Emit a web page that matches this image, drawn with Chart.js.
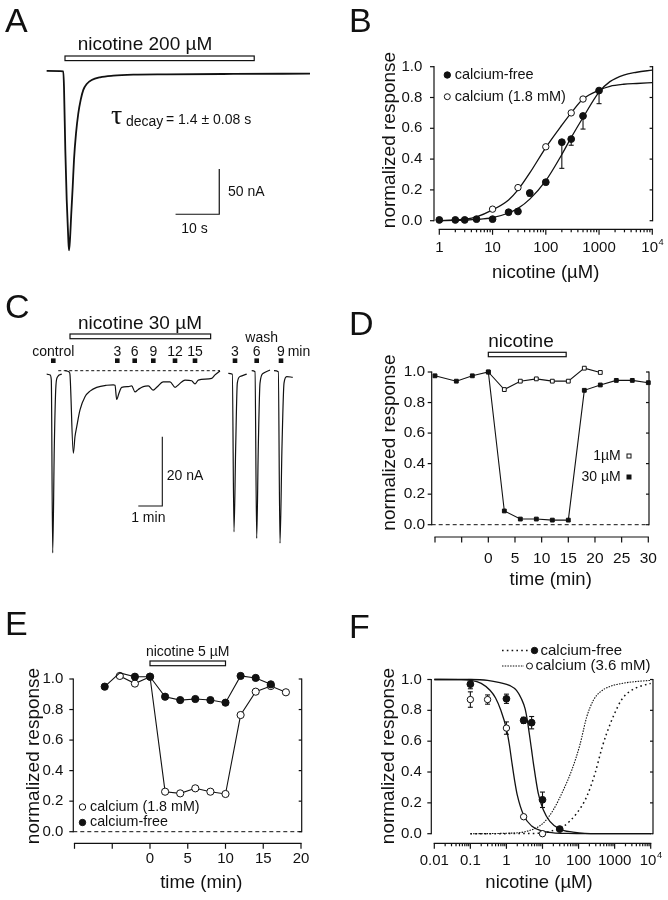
<!DOCTYPE html>
<html>
<head>
<meta charset="utf-8">
<title>nicotine responses</title>
<script src="https://cdn.jsdelivr.net/npm/chart.js@4.4.1/dist/chart.umd.min.js"></script>
<style>
  html, body { margin: 0; padding: 0; background: #fff; }
  #fig { position: relative; width: 668px; height: 900px; overflow: hidden; background: #fff; }
  #fig canvas { position: absolute; left: 0; top: 0; }
</style>
</head>
<body>
<div id="fig">
  <canvas id="pA" width="668" height="900"></canvas>
  <canvas id="pB" width="668" height="900"></canvas>
  <canvas id="pC" width="668" height="900"></canvas>
  <canvas id="pD" width="668" height="900"></canvas>
  <canvas id="pE" width="668" height="900"></canvas>
  <canvas id="pF" width="668" height="900"></canvas>
</div>
<script>
// A - current trace, 200 uM nicotine (time s, current nA)
const traceA_s  = [-4.2, -0.39, -0.23, 0.07, 0.39, 0.76, 0.92, 1.14, 1.44, 1.76, 2.06, 2.52, 3.04, 3.59, 4.19, 4.97, 6.11, 8.01, 11.05, 15.63, 23.27, 38.51, 56.06];
const traceA_nA = [3.9, 3.5, -13.5, -83, -138, -182, -194, -182, -153, -124, -94, -65, -43, -28, -17, -10.5, -6.1, -3.1, -1.3, -0.2, 0.2, 0.6, 0.9];
const drugA_s   = [0, 43.3];
const barA      = [10, 50];   // 10 s, 50 nA

// B - concentration-response
const concB_free = [1, 2, 3, 5, 10, 20, 30, 50, 100, 200, 300, 500, 1000];
const respB_free = [0.005, 0.005, 0.005, 0.01, 0.01, 0.055, 0.06, 0.18, 0.25, 0.51, 0.53, 0.68, 0.845];
const semB_free  = [0, 0, 0, 0, 0, 0, 0, 0.02, 0, 0.17, 0.04, 0.085, 0.085];
const concB_ca   = [10, 30, 100, 300, 500];
const respB_ca   = [0.075, 0.215, 0.48, 0.70, 0.79];
const fitB_conc  = [1, 2, 3, 5, 10, 20, 30, 50, 100, 200, 300, 500, 1000, 1600, 2900, 5100, 10000];
const fitB_free  = [0, 0.002, 0.004, 0.008, 0.02, 0.05, 0.08, 0.14, 0.26, 0.43, 0.54, 0.67, 0.835, 0.903, 0.946, 0.964, 0.978];
const fitB_ca    = [0, 0.005, 0.01, 0.025, 0.07, 0.135, 0.2, 0.31, 0.475, 0.62, 0.7, 0.79, 0.848, 0.873, 0.886, 0.891, 0.896];

// C - traces, 30 uM nicotine (time min, current nA), one array pair per sweep
const segC_ctl_min = [-0.971, -0.833, -0.779, -0.721, -0.654, -0.596, -0.529, -0.346];
const segC_ctl_nA  = [-1.0, -1.2, -2.7, -52.6, -21.9, -5.6, -1.9, -1.0];
const segC_nic_min = [-0.208, -0.029, 0, 0.138, 0.208, 0.279, 0.417, 0.625, 0.833, 1.113, 1.529, 1.804, 1.875, 1.946, 2.04, 2.154, 2.429, 2.571, 2.708, 2.846, 3.054, 3.263, 3.471, 3.613, 3.888, 4.167, 4.375, 4.513, 4.792, 5.071, 5.208, 5.346, 5.904, 6.042, 6.25];
const segC_nic_nA  = [0, -0.4, -1.2, -23.8, -19.0, -16.2, -11.3, -7.5, -5.9, -4.8, -4.2, -4.1, -4.2, -8.3, -6.5, -4.8, -4.6, -4.4, -6.1, -5.4, -4.6, -4.4, -5.6, -4.8, -3.2, -3.2, -4.8, -4.1, -2.7, -2.9, -3.8, -2.7, -2.2, -1.2, -0.1];
const segC_w3_min  = [6.596, 6.763, 6.833, 6.904, 6.971, 7.083, 7.363];
const segC_w3_nA   = [-0.75, -1.0, -46.5, -21.9, -3.6, -1.7, -1.0];
const segC_w6_min  = [7.571, 7.708, 7.779, 7.846, 7.917, 8.054, 8.333];
const segC_w6_nA   = [0, -0.3, -48.4, -21.9, -3.6, -0.75, 0.2];
const segC_w9_min  = [8.5, 8.679, 8.75, 8.833, 8.917, 9.029, 9.279];
const segC_w9_nA   = [0, -0.3, -49.8, -21.9, -3.6, -1.7, -1.9];
const baseC_min    = [-0.49, 6.25];
const baseC_nA     = [0, 0];
const markC_min    = [-0.696, 1.971, 2.696, 3.471, 4.375, 5.208, 6.875, 7.779, 8.792];
const markC_text   = ['control', '3', '6', '9', '12', '15', '3', '6', '9'];
const drugC_min    = [0, 5.86];
const barC         = [1, 20];  // 1 min, 20 nA

// D - time course, 1 and 30 uM
const timeD_30 = [-10, -6, -3, 0, 3, 6, 9, 12, 15, 18, 21, 24, 27, 30];
const respD_30 = [0.975, 0.94, 0.975, 1.0, 0.09, 0.037, 0.037, 0.03, 0.03, 0.88, 0.915, 0.945, 0.945, 0.93];
const timeD_1  = [0, 3, 6, 9, 12, 15, 18, 21];
const respD_1  = [1.0, 0.885, 0.94, 0.955, 0.94, 0.94, 1.025, 0.997];
const drugD    = [0, 14.6];

// E - time course, 5 uM
const timeE_free = [-6, -4, -2, 0, 2, 4, 6, 8, 10, 12, 14, 16];
const respE_free = [0.95, 1.04, 1.015, 1.015, 0.884, 0.862, 0.869, 0.862, 0.845, 1.02, 1.007, 0.965];
const timeE_ca   = [-4, -2, 0, 2, 4, 6, 8, 10, 12, 14, 16, 18];
const respE_ca   = [1.02, 0.97, 1.015, 0.262, 0.251, 0.284, 0.262, 0.247, 0.764, 0.917, 0.954, 0.913];
const drugE      = [0, 10];

// F - inhibition curves
const concF_free = [0.1, 1, 3, 5, 10, 30];
const respF_free = [0.97, 0.875, 0.735, 0.72, 0.22, 0.03];
const semF_free  = [0.03, 0.03, 0.02, 0.04, 0.05, 0];
const concF_ca   = [0.1, 0.3, 1, 3, 10];
const respF_ca   = [0.87, 0.87, 0.685, 0.11, 0.0];
const semF_ca    = [0.05, 0.03, 0.04, 0, 0];
const fitF_ca_x   = [0.01, 0.05, 0.1, 0.2, 0.35, 0.5, 0.7, 1, 1.2, 1.4, 1.7, 2, 3, 5, 10, 20, 50, 100, 1000, 10000];
const fitF_ca_y   = [1.0, 0.999, 0.995, 0.975, 0.93, 0.88, 0.8, 0.68, 0.58, 0.47, 0.34, 0.25, 0.12, 0.05, 0.017, 0.006, 0.002, 0.001, 0, 0];
const fitF_free_x = [0.01, 0.1, 0.3, 0.66, 1.26, 1.9, 2.6, 3.3, 3.8, 4.3, 5, 5.6, 7.6, 10.5, 16, 30, 70, 150, 1000, 10000];
const fitF_free_y = [1.0, 1.0, 0.995, 0.98, 0.96, 0.93, 0.875, 0.81, 0.735, 0.65, 0.54, 0.456, 0.263, 0.155, 0.08, 0.03, 0.01, 0.002, 0, 0];
const actF_ca_x   = [0.1, 1, 3.6, 10.5, 20, 38, 65, 110, 168, 257, 393, 741, 1740, 5000, 10000];
const actF_ca_y   = [0, 0.003, 0.015, 0.069, 0.155, 0.284, 0.413, 0.58, 0.757, 0.865, 0.918, 0.955, 0.976, 0.989, 0.994];
const actF_free_x = [0.1, 10, 16, 38, 89, 168, 285, 437, 600, 1000, 1570, 2700, 5000, 10000];
const actF_free_y = [0, 0.003, 0.015, 0.047, 0.133, 0.24, 0.39, 0.55, 0.65, 0.78, 0.87, 0.925, 0.955, 0.975];

// axis ticks
const respTicks = [0, 0.2, 0.4, 0.6, 0.8, 1.0];
const respText  = ['0.0', '0.2', '0.4', '0.6', '0.8', '1.0'];
const concTicksB = [1, 10, 100, 1000, 10000];
const concTextB  = ['1', '10', '100', '1000', '10^4'];
const timeTicksD = [-10, -5, 0, 5, 10, 15, 20, 25, 30];
const timeTextD  = ['', '', '0', '5', '10', '15', '20', '25', '30'];
const timeTicksE = [-10, -5, 0, 5, 10, 15, 20];
const timeTextE  = ['', '', '0', '5', '10', '15', '20'];
const concTicksF = [0.01, 0.1, 1, 10, 100, 1000, 10000];
const concTextF  = ['0.01', '0.1', '1', '10', '100', '1000', '10^4'];

const W = 668, H = 900;
const INK = '#111';
const SANS = '"Liberation Sans", Arial, Helvetica, sans-serif';
const SERIF = '"Liberation Serif", "DejaVu Serif", serif';

const pts = (xs, ys) => xs.map((x, i) => ({ x: x, y: ys[i] }));

function seg(ctx, x1, y1, x2, y2) {
  ctx.beginPath(); ctx.moveTo(x1, y1); ctx.lineTo(x2, y2); ctx.stroke();
}

function label(ctx, str, x, y, size, align, base, fam) {
  ctx.save();
  ctx.font = size + 'px ' + (fam || SANS);
  ctx.textAlign = align || 'center';
  ctx.textBaseline = base || 'middle';
  ctx.fillStyle = INK;
  ctx.fillText(str, x, y);
  ctx.restore();
}

function powLabel(ctx, str, x, y, size) {
  const parts = str.split('^');
  ctx.save();
  ctx.font = size + 'px ' + SANS;
  const wb = ctx.measureText(parts[0]).width;
  ctx.font = (size * 0.62) + 'px ' + SANS;
  const we = ctx.measureText(parts[1]).width;
  ctx.restore();
  const x0 = x - (wb + we) / 2;
  label(ctx, parts[0], x0, y, size, 'left');
  label(ctx, parts[1], x0 + wb + 0.5, y - size * 0.38, size * 0.62, 'left');
}

function yTitle(ctx, str, x, y) {
  ctx.save();
  ctx.translate(x, y);
  ctx.rotate(-Math.PI / 2);
  label(ctx, str, 0, 0, 19);
  ctx.restore();
}

function letter(ctx, ch, x, y) { label(ctx, ch, x, y, 34, 'left', 'alphabetic'); }

function drugBar(ctx, sx, span, y, h) {
  const a = sx.getPixelForValue(span[0]), b = sx.getPixelForValue(span[1]);
  ctx.save();
  ctx.fillStyle = '#fff'; ctx.strokeStyle = INK; ctx.lineWidth = 1.2;
  ctx.fillRect(a, y, b - a, h);
  ctx.strokeRect(a, y, b - a, h);
  ctx.restore();
}

function logMinor(from, to) {
  const out = [];
  for (let d = from; d < to; d *= 10) for (let k = 2; k < 10; k++) out.push(d * k);
  return out;
}

// SigmaPlot style frame: offset x axis, left axis with labels, bare right axis
function frame(chart, f) {
  const ctx = chart.ctx, sx = chart.scales.x, sy = chart.scales.y;
  ctx.save();
  ctx.strokeStyle = INK; ctx.lineWidth = 1.2;
  const yb = sy.getPixelForValue(0), yt = sy.getPixelForValue(1);
  const lx = sx.left - f.leftGap, rx = sx.right + f.rightGap;
  seg(ctx, lx, yb + 0.6, lx, yt - 0.6);
  seg(ctx, rx, yb + 0.6, rx, yt - 0.6);
  respTicks.forEach((v, i) => {
    const p = sy.getPixelForValue(v);
    seg(ctx, lx - 4, p, lx, p);
    seg(ctx, rx - 3, p, rx, p);
    label(ctx, respText[i], lx - f.yLabelGap, p, f.size, 'right');
  });
  const ay = sy.bottom + f.axisGap;
  seg(ctx, sx.getPixelForValue(f.ticks[0]) - 0.6, ay, sx.getPixelForValue(f.ticks[f.ticks.length - 1]) + 0.6, ay);
  (f.minor || []).forEach(v => { const p = sx.getPixelForValue(v); seg(ctx, p, ay, p, ay + 3); });
  f.ticks.forEach(v => { const p = sx.getPixelForValue(v); seg(ctx, p, ay, p, ay + 5.5); });
  f.text.forEach((t, i) => {
    if (!t) return;
    const p = sx.getPixelForValue(f.ticks[i]);
    if (t.indexOf('^') >= 0) powLabel(ctx, t, p, ay + f.xLabelGap, f.size);
    else label(ctx, t, p, ay + f.xLabelGap, f.size);
  });
  if (f.zeroLine) {
    ctx.setLineDash([4, 3]); ctx.lineWidth = 1;
    seg(ctx, lx, yb, rx, yb);
  }
  ctx.restore();
}

function errBars(chart, xs, ys, es, both) {
  const ctx = chart.ctx, sx = chart.scales.x, sy = chart.scales.y;
  ctx.save();
  ctx.strokeStyle = INK; ctx.lineWidth = 1.1;
  xs.forEach((x, i) => {
    if (!es[i]) return;
    const px = sx.getPixelForValue(x);
    const lo = sy.getPixelForValue(ys[i] - es[i]);
    const hi = sy.getPixelForValue(both ? ys[i] + es[i] : ys[i]);
    seg(ctx, px, lo, px, hi);
    seg(ctx, px - 2.5, lo, px + 2.5, lo);
    if (both) seg(ctx, px - 2.5, hi, px + 2.5, hi);
  });
  ctx.restore();
}

function dot(ctx, x, y, r, open) {
  ctx.save();
  ctx.beginPath(); ctx.arc(x, y, r, 0, Math.PI * 2);
  ctx.fillStyle = open ? '#fff' : INK; ctx.fill();
  ctx.strokeStyle = INK; ctx.lineWidth = 1; ctx.stroke();
  ctx.restore();
}

function curve(xs, ys, extra) {
  return Object.assign({
    data: pts(xs, ys), borderColor: INK, borderWidth: 1.3, pointRadius: 0,
    cubicInterpolationMode: 'monotone', fill: false, clip: false, order: 5
  }, extra || {});
}

function marks(xs, ys, open, extra) {
  return Object.assign({
    data: pts(xs, ys), showLine: false, pointStyle: 'circle', pointRadius: 3.3,
    pointBackgroundColor: open ? '#fff' : INK, pointBorderColor: INK, pointBorderWidth: 1,
    borderColor: INK, borderWidth: 1.1, tension: 0, clip: false, order: 0
  }, extra || {});
}

function build(id, area, xScale, yScale, datasets, deco) {
  return new Chart(document.getElementById(id), {
    type: 'line',
    data: { datasets: datasets },
    options: {
      responsive: false,
      animation: false,
      events: [],
      devicePixelRatio: 1,
      layout: { autoPadding: false, padding: { left: area[0], top: area[1], right: W - area[2], bottom: H - area[3] } },
      plugins: { legend: { display: false }, tooltip: { enabled: false } },
      scales: {
        x: Object.assign({ display: false, bounds: 'data' }, xScale),
        y: Object.assign({ display: false, bounds: 'data' }, yScale)
      }
    },
    plugins: [{
      id: 'deco',
      beforeDatasetsDraw: c => { if (deco.under) deco.under(c, c.ctx, c.scales.x, c.scales.y); },
      afterDraw: c => { if (deco.over) deco.over(c, c.ctx, c.scales.x, c.scales.y); }
    }]
  });
}

// ---- A ----
build('pA', [0, 0, 334, 290],
  { type: 'linear', min: -14.874, max: 61.556 },
  { type: 'linear', min: -237.6, max: 82.14 },
  [curve(traceA_s, traceA_nA, { borderWidth: 1.8 })],
  { over: (c, ctx, sx, sy) => {
      letter(ctx, 'A', 5, 32);
      drugBar(ctx, sx, drugA_s, 56, 4.6);
      label(ctx, 'nicotine 200 µM', 145, 45, 19);
      // scale bar corner at 35.3 s / -154.1 nA
      ctx.save(); ctx.strokeStyle = INK; ctx.lineWidth = 1.2;
      const cx = sx.getPixelForValue(35.3), cy = sy.getPixelForValue(-154.1);
      ctx.beginPath();
      ctx.moveTo(sx.getPixelForValue(35.3 - barA[0]), cy);
      ctx.lineTo(cx, cy);
      ctx.lineTo(cx, sy.getPixelForValue(-154.1 + barA[1]));
      ctx.stroke(); ctx.restore();
      label(ctx, barA[1] + ' nA', 228, 192, 14, 'left');
      label(ctx, barA[0] + ' s', 194.5, 229.5, 14);
      label(ctx, 'τ', 111, 124, 28, 'left', 'alphabetic', SERIF);
      label(ctx, 'decay', 126, 125.5, 14, 'left', 'alphabetic');
      label(ctx, '= 1.4 ± 0.08 s', 166, 124, 14, 'left', 'alphabetic');
  } });

// ---- B ----
build('pB', [439.3, 66.7, 652.3, 220.7],
  { type: 'logarithmic', min: 1, max: 10000 },
  { type: 'linear', min: 0, max: 1 },
  [
    marks(concB_free, respB_free, false, { pointRadius: 3.4, order: 0 }),
    marks(concB_ca, respB_ca, true, { pointRadius: 3.2, order: 1 }),
    curve(fitB_conc, fitB_free),
    curve(fitB_conc, fitB_ca)
  ],
  { under: c => errBars(c, concB_free, respB_free, semB_free, false),
    over: (c, ctx) => {
      frame(c, { leftGap: 5.3, rightGap: 0.3, axisGap: 8.6, yLabelGap: 11.7, xLabelGap: 19, size: 15,
                 ticks: concTicksB, text: concTextB, minor: logMinor(1, 10000) });
      letter(ctx, 'B', 349, 31.7);
      yTitle(ctx, 'normalized response', 389.5, 140);
      label(ctx, 'nicotine (µM)', 545.7, 272.7, 18.5);
      dot(ctx, 447.3, 75, 3.2, false);
      label(ctx, 'calcium-free', 454.7, 75, 14.5, 'left');
      dot(ctx, 447.3, 96.7, 3, true);
      label(ctx, 'calcium (1.8 mM)', 454.7, 96.7, 14.5, 'left');
  } });

// ---- C ----
const traceStyle = { borderWidth: 1.2 };
build('pC', [0, 290, 334, 600],
  { type: 'linear', min: -2.9167, max: 11.0 },
  { type: 'linear', min: -66.18, max: 23.29 },
  [
    curve(segC_ctl_min, segC_ctl_nA, traceStyle),
    curve(segC_nic_min, segC_nic_nA, traceStyle),
    curve(segC_w3_min, segC_w3_nA, traceStyle),
    curve(segC_w6_min, segC_w6_nA, traceStyle),
    curve(segC_w9_min, segC_w9_nA, traceStyle),
    curve(baseC_min, baseC_nA, { borderWidth: 1, borderDash: [3, 2.5], cubicInterpolationMode: 'default', tension: 0 })
  ],
  { over: (c, ctx, sx, sy) => {
      letter(ctx, 'C', 5, 318.3);
      drugBar(ctx, sx, drugC_min, 334, 4.7);
      label(ctx, 'nicotine 30 µM', 140, 323.3, 19);
      label(ctx, 'wash', 261.7, 338.3, 14);
      markC_min.forEach((t, i) => {
        const px = sx.getPixelForValue(t);
        ctx.save(); ctx.fillStyle = INK; ctx.fillRect(px - 2.3, 358.4, 4.6, 4.6); ctx.restore();
        label(ctx, markC_text[i], px, 352.2, 14);
      });
      label(ctx, 'min', 287.7, 352.2, 14, 'left');
      // scale bar corner at 3.846 min / -39.05 nA
      ctx.save(); ctx.strokeStyle = INK; ctx.lineWidth = 1.1;
      const cx = sx.getPixelForValue(3.846), cy = sy.getPixelForValue(-39.05);
      ctx.beginPath();
      ctx.moveTo(sx.getPixelForValue(3.846 - barC[0]), cy);
      ctx.lineTo(cx, cy);
      ctx.lineTo(cx, sy.getPixelForValue(-39.05 + barC[1]));
      ctx.stroke(); ctx.restore();
      label(ctx, barC[1] + ' nA', 166.7, 476, 14, 'left');
      label(ctx, barC[0] + ' min', 148.3, 518.3, 14);
  } });

// ---- D ----
build('pD', [435, 372, 648.3, 524.7],
  { type: 'linear', min: -10, max: 30 },
  { type: 'linear', min: 0, max: 1 },
  [
    marks(timeD_30, respD_30, false, { showLine: true, pointStyle: 'rect', pointRadius: 2.7, order: 0 }),
    marks(timeD_1, respD_1, true, { showLine: true, pointStyle: 'rect', pointRadius: 2.7, order: 1 })
  ],
  { under: c => frame(c, { leftGap: 3.3, rightGap: 0.7, axisGap: 12.3, yLabelGap: 6.5, xLabelGap: 21.3, size: 15.5,
                          ticks: timeTicksD, text: timeTextD, zeroLine: true }),
    over: (c, ctx, sx) => {
      letter(ctx, 'D', 349, 335);
      drugBar(ctx, sx, drugD, 352.3, 4.4);
      label(ctx, 'nicotine', 521, 341.7, 19);
      yTitle(ctx, 'normalized response', 389.5, 442.5);
      label(ctx, 'time (min)', 550.7, 580, 18.5);
      label(ctx, '1µM', 620.7, 456, 14, 'right');
      label(ctx, '30 µM', 620.7, 477, 14, 'right');
      ctx.save(); ctx.strokeStyle = INK; ctx.lineWidth = 1;
      ctx.fillStyle = '#fff'; ctx.fillRect(627, 454, 4, 4); ctx.strokeRect(627, 454, 4, 4);
      ctx.fillStyle = INK; ctx.fillRect(626.5, 474.5, 5, 5);
      ctx.restore();
  } });

// ---- E ----
build('pE', [74.5, 679, 301, 831.7],
  { type: 'linear', min: -10, max: 20 },
  { type: 'linear', min: 0, max: 1 },
  [
    marks(timeE_free, respE_free, false, { showLine: true, pointRadius: 3.6, order: 0 }),
    marks(timeE_ca, respE_ca, true, { showLine: true, pointRadius: 3.6, order: 1 })
  ],
  { under: c => frame(c, { leftGap: 1.2, rightGap: 0.7, axisGap: 11.6, yLabelGap: 10, xLabelGap: 16, size: 15,
                          ticks: timeTicksE, text: timeTextE, zeroLine: true }),
    over: (c, ctx, sx) => {
      letter(ctx, 'E', 5, 635);
      drugBar(ctx, sx, drugE, 661, 4.7);
      label(ctx, 'nicotine 5 µM', 187.7, 652.3, 14);
      yTitle(ctx, 'normalized response', 33.3, 756);
      label(ctx, 'time (min)', 201.3, 882.7, 18.5);
      dot(ctx, 82.5, 807, 3.2, true);
      label(ctx, 'calcium (1.8 mM)', 90, 807, 14.3, 'left');
      dot(ctx, 82.5, 822.5, 3.2, false);
      label(ctx, 'calcium-free', 90, 822.5, 14.3, 'left');
  } });

// ---- F ----
build('pF', [434.3, 679.5, 650.7, 833.7],
  { type: 'logarithmic', min: 0.01, max: 10000 },
  { type: 'linear', min: 0, max: 1 },
  [
    marks(concF_free, respF_free, false, { pointRadius: 3.4, order: 0 }),
    marks(concF_ca, respF_ca, true, { pointRadius: 3.2, order: 1 }),
    curve(fitF_ca_x, fitF_ca_y),
    curve(fitF_free_x, fitF_free_y),
    curve(actF_ca_x, actF_ca_y, { borderWidth: 1.1, borderDash: [1.5, 1.2] }),
    curve(actF_free_x, actF_free_y, { borderWidth: 1.5, borderDash: [1.6, 3.2] })
  ],
  { under: c => {
      frame(c, { leftGap: 3, rightGap: 2.3, axisGap: 9.6, yLabelGap: 9.5, xLabelGap: 17.7, size: 15,
                 ticks: concTicksF, text: concTextF, minor: logMinor(0.01, 10000) });
      errBars(c, concF_free, respF_free, semF_free, true);
      errBars(c, concF_ca, respF_ca, semF_ca, true);
    },
    over: (c, ctx) => {
      letter(ctx, 'F', 349, 638.3);
      yTitle(ctx, 'normalized response', 389, 756);
      label(ctx, 'nicotine (µM)', 539, 883.3, 18.5);
      ctx.save(); ctx.strokeStyle = INK;
      ctx.lineWidth = 1.5; ctx.setLineDash([1.6, 3.2]); seg(ctx, 502, 650.5, 529, 650.5);
      ctx.lineWidth = 1.1; ctx.setLineDash([1.5, 1.2]); seg(ctx, 502, 666, 524, 666);
      ctx.restore();
      dot(ctx, 534.5, 650.5, 3.2, false);
      label(ctx, 'calcium-free', 540.5, 650.5, 15, 'left');
      dot(ctx, 529.5, 666, 3, true);
      label(ctx, 'calcium (3.6 mM)', 535.5, 666, 15, 'left');
  } });
</script>
</body>
</html>
